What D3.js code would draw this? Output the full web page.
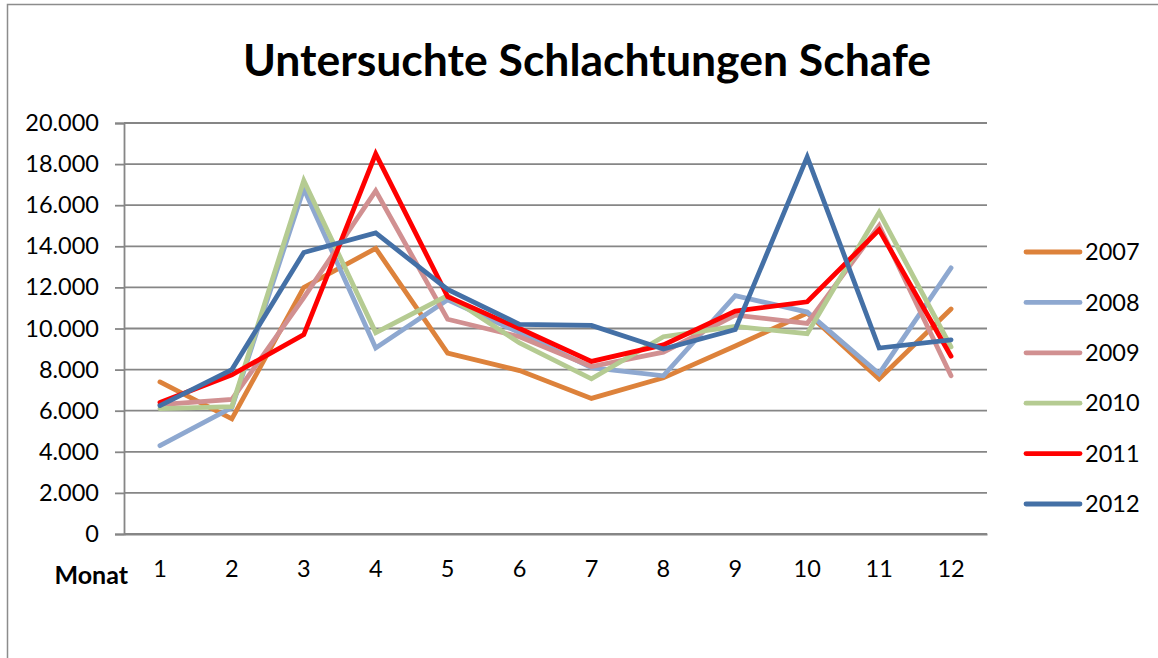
<!DOCTYPE html>
<html>
<head>
<meta charset="utf-8">
<script src="https://cdn.jsdelivr.net/npm/d3@7"></script>
<style>
  body { margin: 0; background: #fff; }
  svg { display: block; font-family: Lato, "Open Sans", sans-serif; }
</style>
</head>
<body>
<div id="chart"></div>
<script>
// DATA ______________________________________________________________
const MONTHS = [1, 2, 3, 4, 5, 6, 7, 8, 9, 10, 11, 12];
const Y_TICKS = [0, 2000, 4000, 6000, 8000, 10000, 12000, 14000, 16000, 18000, 20000];
const YEARS = ['2007', '2008', '2009', '2010', '2011', '2012'];

const V2007 = [7400, 5600, 12000, 13900, 8800, 7950, 6600, 7600, 9150, 10750, 7550, 10950];
const V2008 = [4300, 6150, 16800, 9050, 11400, 9800, 8100, 7700, 11600, 10800, 7800, 12950];
const V2009 = [6300, 6550, 11500, 16700, 10450, 9600, 8150, 8850, 10650, 10250, 15000, 7700];
const V2010 = [6100, 6200, 17200, 9800, 11600, 9300, 7550, 9600, 10100, 9750, 15650, 9100];
const V2011 = [6400, 7750, 9700, 18500, 11550, 10000, 8400, 9200, 10850, 11300, 14800, 8650];
const V2012 = [6250, 8000, 13700, 14650, 11900, 10200, 10150, 9000, 9950, 18350, 9050, 9450];

const COLORS = ['#dd823b', '#8ea8d0', '#d19091', '#b5cb92', '#ff0000', '#4470a6'];
//____________________________________________________________________

const W = 1158, H = 658;
const PLOT = {left: 124, right: 987, top: 123, bottom: 534};
const GRID = '#868686';

const series = YEARS.map(function(y, i) {
    return {name: y, values: [V2007, V2008, V2009, V2010, V2011, V2012][i], color: COLORS[i]};
});

const svg = d3.select('#chart').append('svg')
    .attr('width', W)
    .attr('height', H);

// outer chart border (only left & top visible in the crop)
svg.append('rect')
    .attr('x', 7.5).attr('y', 4.5)
    .attr('width', 1300).attr('height', 800)
    .attr('fill', 'none')
    .attr('stroke', '#8c8c8c')
    .attr('stroke-width', 1.5);

// title
svg.append('text')
    .attr('x', 587).attr('y', 76)
    .attr('text-anchor', 'middle')
    .attr('font-size', '44.5px')
    .attr('font-weight', 'bold')
    .attr('fill', '#000')
    .text('Untersuchte Schlachtungen Schafe');

// scales
const x = d3.scaleBand()
    .domain(MONTHS)
    .range([PLOT.left, PLOT.right]);

const y = d3.scaleLinear()
    .domain([0, 20000])
    .range([PLOT.bottom, PLOT.top]);

const fmt = function(d) { return d3.format(',')(d).replace(/,/g, '.'); };

// gridlines
svg.append('g')
    .selectAll('line')
    .data(Y_TICKS)
    .enter()
    .append('line')
    .attr('x1', PLOT.left).attr('x2', PLOT.right)
    .attr('y1', function(d) { return y(d); })
    .attr('y2', function(d) { return y(d); })
    .attr('stroke', GRID)
    .attr('stroke-width', 1.8);

// y axis
const yAxis = svg.append('g')
    .attr('transform', `translate(${PLOT.left},0)`)
    .call(d3.axisLeft(y).tickValues(Y_TICKS).tickFormat(fmt).tickSize(9).tickPadding(16));
yAxis.select('.domain').attr('stroke', GRID).attr('stroke-width', 1.8);
yAxis.selectAll('.tick line').attr('stroke', GRID).attr('stroke-width', 1.8);
yAxis.selectAll('text')
    .attr('fill', '#000')
    .attr('font-size', '23.5px')
    .attr('font-family', 'Lato, sans-serif');

// x axis
const xAxis = svg.append('g')
    .attr('transform', `translate(0,${PLOT.bottom})`)
    .call(d3.axisBottom(x).tickSize(0).tickPadding(26));
xAxis.select('.domain').attr('stroke', GRID).attr('stroke-width', 1.8);
xAxis.selectAll('text')
    .attr('fill', '#000')
    .attr('font-size', '23.5px')
    .attr('font-family', 'Lato, sans-serif');

// axis title
svg.append('text')
    .attr('x', 128).attr('y', 584)
    .attr('text-anchor', 'end')
    .attr('font-size', '25px')
    .attr('font-weight', 'bold')
    .text('Monat');

// lines
const line = d3.line()
    .x(function(d, i) { return x(MONTHS[i]) + x.bandwidth() / 2; })
    .y(function(d) { return y(d); });

svg.append('g')
    .selectAll('path')
    .data(series)
    .enter()
    .append('path')
    .attr('d', function(d) { return line(d.values); })
    .attr('fill', 'none')
    .attr('stroke', function(d) { return d.color; })
    .attr('stroke-width', 4.8)
    .attr('stroke-linejoin', 'miter')
    .attr('stroke-linecap', 'round');

// legend
const legend = svg.append('g')
    .selectAll('g')
    .data(series)
    .enter()
    .append('g')
    .attr('transform', function(d, i) { return `translate(1026,${252 + i * 50.4})`; });

legend.append('line')
    .attr('x1', 0).attr('x2', 54)
    .attr('stroke', function(d) { return d.color; })
    .attr('stroke-width', 4.8)
    .attr('stroke-linecap', 'round');

legend.append('text')
    .attr('x', 59).attr('y', 0)
    .attr('dy', '0.35em')
    .attr('font-size', '23.5px')
    .text(function(d) { return d.name; });
</script>
</body>
</html>
